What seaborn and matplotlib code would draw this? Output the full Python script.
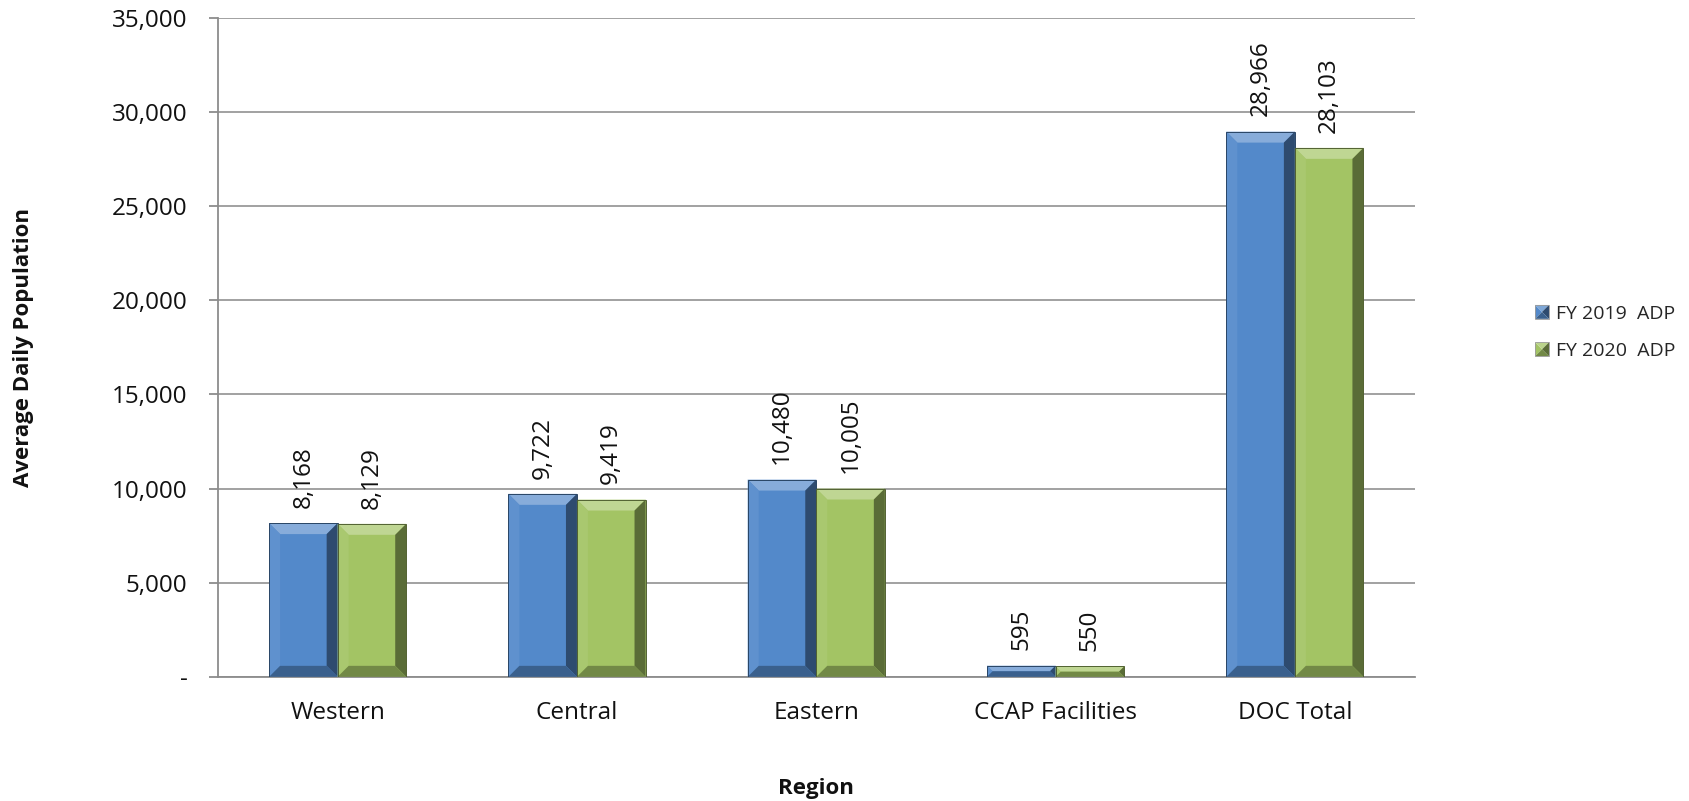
import numpy as np
import pandas as pd
import matplotlib
matplotlib.use("Agg")
import matplotlib.pyplot as plt
from matplotlib.patches import Polygon, Patch
from matplotlib.legend_handler import HandlerBase
from matplotlib.ticker import FuncFormatter
import seaborn as sns

# Average daily population by region
regions = ["Western", "Central", "Eastern", "CCAP Facilities", "DOC Total"]
fy2019 = [8168, 9722, 10480, 595, 28966]
fy2020 = [8129, 9419, 10005, 550, 28103]
series_names = ["FY 2019  ADP", "FY 2020  ADP"]
y_ticks = [0, 5000, 10000, 15000, 20000, 25000, 30000, 35000]

df = pd.DataFrame({
    "Region": regions * 2,
    "Series": [series_names[0]] * len(regions) + [series_names[1]] * len(regions),
    "ADP": fy2019 + fy2020,
})

sns.set_theme(style="white")
plt.rcParams["font.family"] = ["Open Sans", "DejaVu Sans"]

base_colors = {"FY 2019  ADP": "#5389CA", "FY 2020  ADP": "#A3C464"}
FS = 17.5       # tick and value labels
FS_TITLE = 16   # axis titles
FS_LEG = 14     # legend

fig = plt.figure(figsize=(16.9, 8.01), dpi=100)
ax = fig.add_axes([0.129, 0.155, 0.708, 0.8225])

sns.barplot(data=df, x="Region", y="ADP", hue="Series", palette=base_colors,
            width=0.573, dodge=True, ax=ax, legend=False, saturation=1,
            edgecolor="none", linewidth=0)

ax.set_xlim(-0.5, len(regions) - 0.5)
ax.set_ylim(0, 35000)
ax.set_yticks(y_ticks)
ax.yaxis.set_major_formatter(FuncFormatter(lambda v, p: "-" if v == 0 else f"{int(v):,}"))

# grid and axes styling
ax.yaxis.grid(True, color="#9a9a9a", linewidth=1.3)
ax.set_axisbelow(True)
for s in ["top", "right"]:
    ax.spines[s].set_visible(False)
for s in ["left", "bottom"]:
    ax.spines[s].set_color("#8c8c8c")
    ax.spines[s].set_linewidth(1.3)

ax.set_xticks(np.arange(len(regions)))
ax.set_xticklabels(regions, fontsize=FS, color="#111111")
ax.tick_params(axis="x", which="major", length=0, pad=17.5)
ax.set_xticks(np.arange(-0.5, len(regions)), minor=True)
ax.tick_params(axis="x", which="minor", length=6.5, width=1.3, color="#8c8c8c", direction="out")
ax.tick_params(axis="y", length=6.5, width=1.3, color="#8c8c8c", direction="out",
               labelsize=FS, labelcolor="#111111", pad=15.5, left=True)

ax.set_xlabel("Region", fontsize=FS_TITLE, fontweight="bold", labelpad=38, color="#111111")
ax.set_ylabel("Average Daily Population", fontsize=FS_TITLE, fontweight="bold", labelpad=56,
              color="#111111")

fig.canvas.draw()

# bevelled faces on each bar
def shade(hexcol, f):
    c = np.array(matplotlib.colors.to_rgb(hexcol))
    if f >= 0:
        c = c + (1 - c) * f
    else:
        c = c * (1 + f)
    return np.clip(c, 0, 1)

x0d, x1d = ax.get_xlim()
y0d, y1d = ax.get_ylim()
bbox = ax.get_window_extent()
px_x = (x1d - x0d) / bbox.width
px_y = (y1d - y0d) / bbox.height
bevel = 11

bars = [p for p in ax.patches]
for bar in bars:
    x, y = bar.get_x(), bar.get_y()
    w, h = bar.get_width(), bar.get_height()
    col = matplotlib.colors.to_hex(bar.get_facecolor())
    hpx = h / px_y
    b = min(bevel, hpx / 2.0)
    bx, by = b * px_x, b * px_y
    L, R, B, T = x, x + w, y, y + h
    faces = [
        ([(L, T), (R, T), (R - bx, T - by), (L + bx, T - by)], shade(col, 0.30)),
        ([(L, B), (L, T), (L + bx, T - by), (L + bx, B + by)], shade(col, 0.07)),
        ([(R, B), (R, T), (R - bx, T - by), (R - bx, B + by)], shade(col, -0.45)),
        ([(L, B), (R, B), (R - bx, B + by), (L + bx, B + by)], shade(col, -0.30)),
    ]
    for pts, c in faces:
        ax.add_patch(Polygon(pts, closed=True, facecolor=c, edgecolor="none", zorder=3))
    ax.add_patch(Polygon([(L, B), (L, T), (R, T), (R, B)], closed=True, fill=False,
                         edgecolor=shade(col, -0.5), linewidth=0.7, zorder=4))

# value labels
for bar in bars:
    v = bar.get_height()
    ax.annotate(f"{int(round(v)):,}", (bar.get_x() + bar.get_width() / 2, v),
                xytext=(0, 11), textcoords="offset points", rotation=90,
                ha="center", va="bottom", fontsize=FS, color="#111111")


class BevelSquare(HandlerBase):
    """Legend key drawn as a small pyramid-shaded square."""

    def create_artists(self, legend, orig_handle, xdescent, ydescent, width, height,
                       fontsize, trans):
        col = matplotlib.colors.to_hex(orig_handle.get_facecolor())
        s = min(width, height)
        x0, y0 = -xdescent, -ydescent + (height - s) / 2
        cx, cy = x0 + s / 2, y0 + s / 2
        corners = [(x0, y0), (x0, y0 + s), (x0 + s, y0 + s), (x0 + s, y0)]
        tones = [0.0, 0.25, -0.45, -0.3]  # left, top, right, bottom
        arts = []
        for i, t in enumerate(tones):
            p1, p2 = corners[i], corners[(i + 1) % 4]
            arts.append(Polygon([p1, p2, (cx, cy)], closed=True, facecolor=shade(col, t),
                                edgecolor="none", transform=trans))
        arts.append(Polygon(corners, closed=True, fill=False, edgecolor="#9a9a9a",
                            linewidth=0.6, transform=trans))
        return arts


handles = [Patch(facecolor=base_colors[s], label=s) for s in series_names]
fig.legend(handles=handles, loc="center left", bbox_to_anchor=(0.898, 0.585), frameon=False,
           fontsize=FS_LEG, handlelength=0.72, handleheight=0.72, handletextpad=0.36,
           labelspacing=1.0, handler_map={Patch: BevelSquare()})

fig.savefig("out.png", dpi=100)
